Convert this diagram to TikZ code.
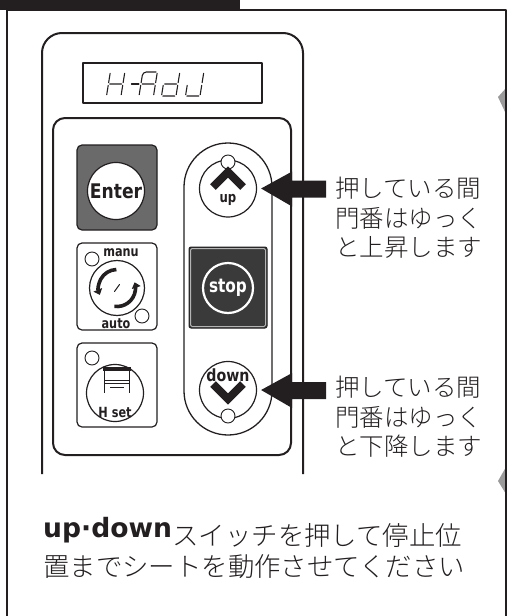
\documentclass[tikz,border=0pt]{standalone}
\usepackage{fontspec}
\newfontfamily\jp{Noto Sans CJK JP Light}
\newfontfamily\lbl{DejaVu Sans Condensed}
\newfontfamily\heavy{DejaVu Sans}
\usetikzlibrary{calc,arrows.meta}
\definecolor{ink}{HTML}{231F20}
\definecolor{keygray}{HTML}{6A6A6A}
\definecolor{stopgray}{HTML}{3A3A3A}
\definecolor{rimgray}{HTML}{B4B4B4}
\definecolor{wedge}{HTML}{9A9A9A}

% seven-segment pieces (cell 14.5 x 24, origin at lower left)
\def\sga{(1.3,24)--(13.2,24)}
\def\sgb{(14.5,22.7)--(14.5,13.3)}
\def\sgc{(14.5,10.7)--(14.5,1.3)}
\def\sgd{(1.3,0)--(13.2,0)}
\def\sge{(0,1.3)--(0,10.7)}
\def\sgf{(0,13.3)--(0,22.7)}
\def\sgg{(1.3,12)--(13.2,12)}

\begin{document}
\begin{tikzpicture}[x=1pt,y=-1pt,line join=round,
  keybox/.style={draw=ink, line width=1.2pt, rounded corners=5pt, inner sep=0pt, minimum width=80pt},
  dial/.style={circle, draw=ink, line width=1.2pt, fill=white, inner sep=0pt, minimum size=57pt},
  dot/.style={circle, draw=ink, line width=0.9pt, fill=white, inner sep=0pt, minimum size=14pt},
  keylabel/.style={font=\lbl\bfseries\fontsize{#1}{#1}\selectfont, text=ink, inner sep=0pt},
  jptext/.style={font=\jp\fontsize{24.5}{24.5}\selectfont, text=ink, anchor=base west, inner sep=0pt},
  jpline/.style={font=\jp\fontsize{26.4}{26.4}\selectfont, text=ink, anchor=base west, inner sep=0pt},
  seg/.style={draw=ink, line width=1.1pt, line cap=round},
  pointer/.style={fill=ink}
]
\useasboundingbox (0,0) rectangle (509,616);

% sheet frame with its tab and edge marks
\fill[wedge] (498,97) -- (506,88) -- (506,114) -- cycle;
\fill[wedge] (498,481) -- (506,467) -- (506,494) -- cycle;
\fill[ink] (0,0) rectangle (240,10);
\draw[ink, line width=1.8pt] (7,616) -- (7,10) -- (506,10) -- (506,616);

% controller body
\draw[ink, line width=2pt, rounded corners=20pt] (42,474) -- (42,33) -- (303,33) -- (303,474);

% display window
\node[draw=ink, line width=1.2pt, minimum width=179pt, minimum height=40pt, inner sep=0pt] (lcd) at (172.5,83) {};
\begin{scope}[shift={(106.5,96)}, x=1pt, y=1pt, xslant=0.16]
  \draw[seg] \sgb \sgc \sge \sgf \sgg;
\end{scope}
\begin{scope}[shift={(127.5,96)}, x=1pt, y=1pt, xslant=0.16]
  \draw[seg] (2,12)--(9.5,12);
\end{scope}
\begin{scope}[shift={(139,96)}, x=1pt, y=1pt, xslant=0.16]
  \draw[seg] \sgb \sgc \sge \sgg;
  \draw[seg, rounded corners=3.5pt] (0,13.3)--(0,24)--(13.2,24);
\end{scope}
\begin{scope}[shift={(161.5,96)}, x=1pt, y=1pt, xslant=0.16]
  \draw[seg] \sgb \sgc \sgd \sge \sgg;
\end{scope}
\begin{scope}[shift={(185.5,96)}, x=1pt, y=1pt, xslant=0.16]
  \draw[seg] \sgb \sgc \sgd \sge;
\end{scope}

% key panel
\draw[ink, line width=2pt, rounded corners=12pt] (53,118) rectangle (291,455);

% Enter key
\node[keybox, fill=keygray, minimum height=85pt] (enterkey) at (117,187.5) {};
\node[dial] (enterdial) at (116,191) {};
\node[keylabel=18] (enterlbl) at (enterdial) {\scalebox{1.06}[1.12]{Enter}};

% manual / auto key
\node[keybox, fill=white, minimum height=87pt] (modekey) at (117,286.5) {};
\node[dial, minimum size=55pt] (modedial) at (117,288) {};
\node[dot] (mododot1) at (92,259) {};
\node[dot] (mododot2) at (142,316) {};
\node[keylabel=12.5, fill=white, inner xsep=1pt] (manulbl) at (121,253) {\scalebox{1}[1.12]{manu}};
\node[keylabel=12.5, fill=white, inner xsep=1pt] (autolbl) at (116,323.5) {\scalebox{1}[1.12]{auto}};
\begin{scope}[shift={(modedial.center)}, x=1pt, y=1pt]
  \draw[ink, line width=3.6pt, -{Triangle[length=5.5pt,width=9pt]}] (92:18.5) arc[start angle=92, end angle=202, radius=18.5];
  \draw[ink, line width=3.6pt, -{Triangle[length=5.5pt,width=9pt]}] (262:18.5) arc[start angle=262, end angle=378, radius=18.5];
  \draw[ink, line width=1pt, line cap=round] (-2.5,-3.5) -- (2.5,3.5);
\end{scope}

% height set key
\node[keybox, fill=white, minimum height=84pt] (hsetkey) at (117,385) {};
\node[dial] (hsetdial) at (115,393) {};
\node[dot] (hsetdot) at (92,358) {};
\draw[ink, line width=4pt] (103,369) -- (131,369);
\draw[ink, line width=1.3pt] (104.5,369) -- (104.5,393) (129.5,369) -- (129.5,393);
\draw[ink, line width=0.9pt] (104.5,380) -- (129.5,380) (104.5,383) -- (129.5,383) (110,387) -- (124,387);
\node[keylabel=12.5] (hsetlbl) at (115,412) {\scalebox{1}[1.12]{H set}};

% up / stop / down column
\draw[ink, line width=1.3pt, rounded corners=44pt] (184,143) rectangle (272,435);

\node[dial] (updial) at (228,188.5) {};
\node[dot] (updot) at (228,162) {};
\draw[ink, line width=8pt, line join=miter] (213,187) -- (228,172) -- (243,187);
\node[keylabel=13] (uplbl) at (228,200) {\scalebox{1}[1.12]{up}};

\node[draw=ink, line width=1pt, fill=stopgray, minimum width=78pt, minimum height=81pt, inner sep=0pt, rounded corners=2pt] (stopkey) at (228,287.5) {};
\draw[rimgray, line width=1pt, rounded corners=1.5pt] ($(stopkey.north west)+(2,2)$) rectangle ($(stopkey.south east)+(-2,-2)$);
\node[circle, draw=white, line width=2.2pt, inner sep=0pt, minimum size=50pt] (stopring) at (228,288) {};
\node[keylabel=17, text=white] (stoplbl) at (stopring) {\scalebox{1}[1.12]{stop}};

\node[dial] (downdial) at (228,390) {};
\node[dot] (downdot) at (228,416) {};
\draw[ink, line width=8pt, line join=miter] (213,384) -- (228,399) -- (243,384);
\node[keylabel=15] (downlbl) at (228,375) {\scalebox{1.05}[1.12]{down}};

% pointers
\fill[pointer] ($(updial.east)+(4,0)$) -- ++(31,-17) -- ++(0,9) -- ++(34,0) -- ++(0,17) -- ++(-34,0) -- ++(0,9) -- cycle;
\fill[pointer] ($(downdial.east)+(4,0)$) -- ++(31,-17) -- ++(0,9) -- ++(34,0) -- ++(0,17) -- ++(-34,0) -- ++(0,9) -- cycle;

% notes
\node[jptext] (u1) at (335,197) {押している間};
\node[jptext] (u2) at (335,227) {門番はゆっく};
\node[jptext] (u3) at (335,256.5) {と上昇します};
\node[jptext] (d1) at (335,396) {押している間};
\node[jptext] (d2) at (335,426) {門番はゆっく};
\node[jptext] (d3) at (335,455) {と下降します};

\node[anchor=base west, inner sep=0pt, text=ink, font=\heavy\bfseries\fontsize{26.6}{26.6}\selectfont] (ud) at (43,537) {up·down};
\node[jpline] (b1) at (ud.base east |- 0,545) {スイッチを押して停止位};
\node[jpline] (b2) at (43,576) {置までシートを動作させてください};
\end{tikzpicture}
\end{document}
